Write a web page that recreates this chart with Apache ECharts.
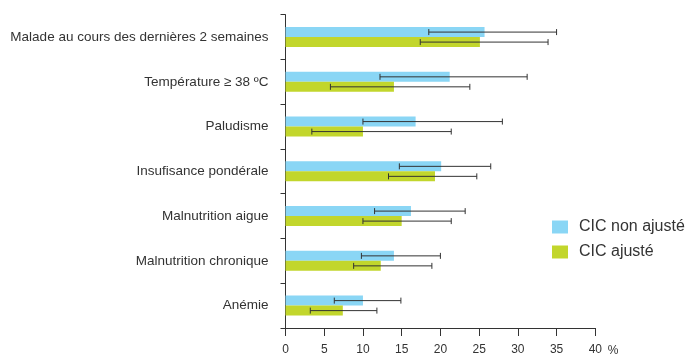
<!DOCTYPE html>
<html><head><meta charset="utf-8">
<script src="https://cdn.jsdelivr.net/npm/echarts@6/dist/echarts.min.js"></script>
<style>html,body{margin:0;padding:0;background:#fff}#c{width:687px;height:357px}</style>
</head><body><div id="c"></div>
<script>
const categories = ["Malade au cours des dernières 2 semaines","Température ≥ 38 ºC","Paludisme","Insufisance pondérale","Malnutrition aigue","Malnutrition chronique","Anémie"];
const seriesNames = ["CIC non ajusté","CIC ajusté"];
const nonAjuste = [25.7, 21.2, 16.8, 20.1, 16.2, 14.0, 10.0];
const nonAjusteLow = [18.5, 12.2, 10.0, 14.7, 11.5, 9.8, 6.3];
const nonAjusteHigh = [35.0, 31.2, 28.0, 26.5, 23.2, 20.0, 14.9];
const ajuste = [25.1, 14.0, 10.0, 19.3, 15.0, 12.3, 7.4];
const ajusteLow = [17.4, 5.8, 3.4, 13.3, 10.0, 8.8, 3.2];
const ajusteHigh = [33.9, 23.8, 21.4, 24.7, 21.4, 18.9, 11.8];
const xTicks = [0,5,10,15,20,25,30,35,40];

const FF = '"Liberation Sans", Arial, Helvetica, sans-serif';
const colors = ['#8ad6f5','#c2d62c'];
const BW = 10;
function errSeries(low, high, offset) {
  return {
    type: 'custom',
    silent: true,
    z: 5,
    data: low.map((l, i) => [l, high[i], i]),
    encode: {x: [0, 1], y: 2},
    renderItem: function (params, api) {
      const a = api.coord([api.value(0), api.value(2)]);
      const b = api.coord([api.value(1), api.value(2)]);
      const y = a[1] + offset;
      const h = 3;
      const st = {stroke: '#333', lineWidth: 1};
      return {type: 'group', children: [
        {type: 'line', shape: {x1: a[0], y1: y, x2: b[0], y2: y}, style: st},
        {type: 'line', shape: {x1: a[0], y1: y - h, x2: a[0], y2: y + h}, style: st},
        {type: 'line', shape: {x1: b[0], y1: y - h, x2: b[0], y2: y + h}, style: st}
      ]};
    }
  };
}
const chart = echarts.init(document.getElementById('c'), null, {renderer: 'canvas'});
chart.setOption({
  animation: false,
  textStyle: {fontFamily: FF},
  grid: {left: 285.5, right: 91.7, top: 14.7, bottom: 26.5, containLabel: false},
  legend: {
    orient: 'vertical', left: 552, top: 219, padding: 0,
    itemWidth: 16, itemHeight: 13, itemGap: 9,
    icon: 'rect',
    data: seriesNames,
    textStyle: {fontFamily: FF, fontSize: 16, color: '#333', padding: [0, 0, 0, 6]}
  },
  xAxis: {
    type: 'value', min: 0, max: 40, interval: 5,
    name: '%', nameLocation: 'end', nameGap: 7,
    nameTextStyle: {fontFamily: FF, fontSize: 12, color: '#333', verticalAlign: 'top', align: 'left', padding: [17, 0, 0, 0]},
    axisLine: {show: true, lineStyle: {color: '#333', width: 1}},
    axisTick: {show: true, length: 8, lineStyle: {color: '#333'}},
    axisLabel: {fontFamily: FF, fontSize: 12, color: '#333', margin: 16, formatter: v => xTicks.includes(v) ? String(v) : ''},
    splitLine: {show: false}
  },
  yAxis: {
    type: 'category', data: categories, inverse: true,
    axisLine: {show: true, lineStyle: {color: '#333', width: 1}},
    axisTick: {show: true, length: 5, lineStyle: {color: '#333'}},
    axisLabel: {fontFamily: FF, fontSize: 13.5, color: '#333', margin: 17}
  },
  series: [
    {name: seriesNames[0], type: 'bar', data: nonAjuste, barWidth: BW, barGap: '0%', itemStyle: {color: colors[0]}},
    {name: seriesNames[1], type: 'bar', data: ajuste, barWidth: BW, barGap: '0%', itemStyle: {color: colors[1]}},
    errSeries(nonAjusteLow, nonAjusteHigh, -BW / 2),
    errSeries(ajusteLow, ajusteHigh, BW / 2)
  ]
});
</script></body></html>
